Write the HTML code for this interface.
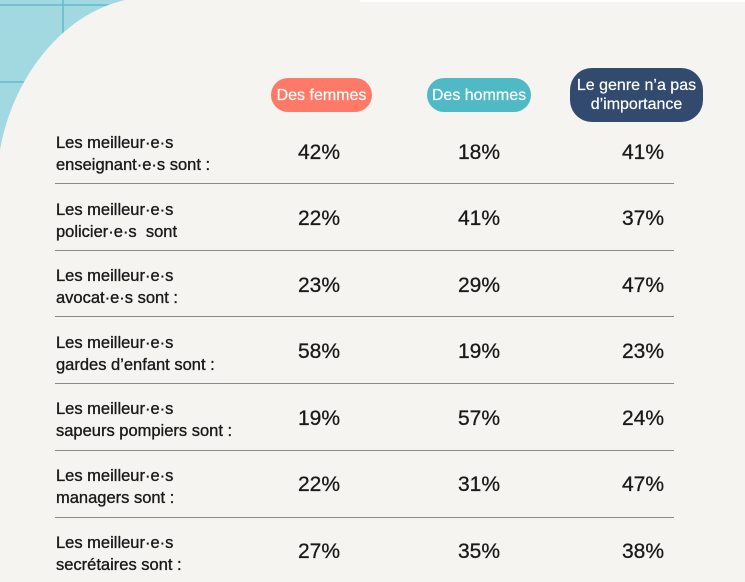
<!DOCTYPE html>
<html><head><meta charset="utf-8"><style>
body{margin:0;width:745px;height:582px;overflow:hidden;background:#f5f4f0;font-family:"Liberation Sans",sans-serif;color:#1a1a1a;position:relative}
svg.bg{position:absolute;left:0;top:0}
.pill{position:absolute;color:#fff;font-size:16px;text-align:center;border-radius:18px;line-height:19px;display:flex;align-items:center;justify-content:center;-webkit-text-stroke:0.2px #fff}
.lbl{position:absolute;left:56px;font-size:16.5px;line-height:22px;-webkit-text-stroke:0.35px #1a1a1a}
.pct{position:absolute;font-size:21px;width:80px;text-align:center;margin-left:-40px;-webkit-text-stroke:0.3px #1a1a1a}
.ln{position:absolute;left:55px;width:619px;height:1px;background:#8a8a8a}
</style></head><body>
<svg class="bg" width="745" height="582">
<rect x="0" y="0" width="200" height="220" fill="#a2d8e0"/>
<line x1="0" y1="5" x2="200" y2="5" stroke="#5dbdc9" stroke-width="1.5"/>
<line x1="0" y1="82" x2="200" y2="82" stroke="#5dbdc9" stroke-width="1.5"/>
<line x1="63" y1="0" x2="63" y2="200" stroke="#5dbdc9" stroke-width="1.5"/>
<path d="M125 0 C 60 15, 12 80, 0 150 L0 582 L745 582 L745 0 Z" fill="#f5f4f0"/>
<rect x="360" y="0" width="385" height="2" fill="#ffffff"/>
</svg>
<div class="pill" style="left:271px;top:78px;width:101px;height:34px;background:#fe7a68">Des femmes</div>
<div class="pill" style="left:427px;top:78px;width:104px;height:34px;background:#4fb9c6">Des hommes</div>
<div class="pill" style="left:570px;top:68px;width:133px;height:54px;background:#324a6e;border-radius:22px">Le genre n’a pas<br>d’importance</div>

<div class="lbl" style="top:132px">Les meilleur·e·s<br>enseignant·e·s sont :</div>
<div class="pct" style="left:319px;top:141px">42%</div><div class="pct" style="left:479px;top:141px">18%</div><div class="pct" style="left:643px;top:141px">41%</div>
<div class="ln" style="top:183px"></div>

<div class="lbl" style="top:199px">Les meilleur·e·s<br>policier·e·s&nbsp; sont</div>
<div class="pct" style="left:319px;top:207px">22%</div><div class="pct" style="left:479px;top:207px">41%</div><div class="pct" style="left:643px;top:207px">37%</div>
<div class="ln" style="top:250px"></div>

<div class="lbl" style="top:265px">Les meilleur·e·s<br>avocat·e·s sont :</div>
<div class="pct" style="left:319px;top:274px">23%</div><div class="pct" style="left:479px;top:274px">29%</div><div class="pct" style="left:643px;top:274px">47%</div>
<div class="ln" style="top:316px"></div>

<div class="lbl" style="top:332px">Les meilleur·e·s<br>gardes d’enfant sont :</div>
<div class="pct" style="left:319px;top:340px">58%</div><div class="pct" style="left:479px;top:340px">19%</div><div class="pct" style="left:643px;top:340px">23%</div>
<div class="ln" style="top:383px"></div>

<div class="lbl" style="top:398px">Les meilleur·e·s<br>sapeurs pompiers sont :</div>
<div class="pct" style="left:319px;top:407px">19%</div><div class="pct" style="left:479px;top:407px">57%</div><div class="pct" style="left:643px;top:407px">24%</div>
<div class="ln" style="top:450px"></div>

<div class="lbl" style="top:465px">Les meilleur·e·s<br>managers sont :</div>
<div class="pct" style="left:319px;top:473px">22%</div><div class="pct" style="left:479px;top:473px">31%</div><div class="pct" style="left:643px;top:473px">47%</div>
<div class="ln" style="top:517px"></div>

<div class="lbl" style="top:532px">Les meilleur·e·s<br>secrétaires sont :</div>
<div class="pct" style="left:319px;top:540px">27%</div><div class="pct" style="left:479px;top:540px">35%</div><div class="pct" style="left:643px;top:540px">38%</div>
</body></html>
